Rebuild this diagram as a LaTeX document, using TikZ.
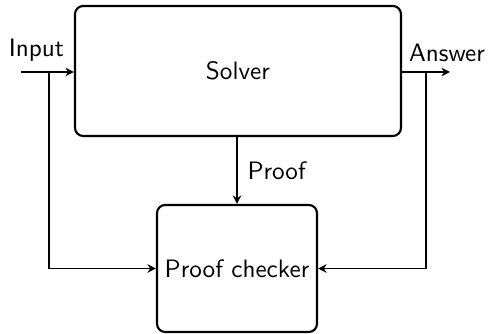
\documentclass[tikz,border=0pt]{standalone}
\usetikzlibrary{arrows.meta}
\begin{document}
\begin{tikzpicture}[x=0.397pt,y=-0.397pt,
  font=\sffamily,
  box/.style={draw,line width=0.85pt,rounded corners=3.2pt,inner sep=0pt},
  conn/.style={line width=0.7pt,-{Stealth[length=3.4pt,width=3.4pt]}},
  plain/.style={line width=0.7pt},
  lbl/.style={inner sep=0pt,anchor=base}]
\useasboundingbox (0,0) rectangle (489,334);
\node[box,minimum width=129.4pt,minimum height=51.6pt] (solver) at (238,71) {Solver};
\node[box,minimum width=63.5pt,minimum height=50.4pt] (checker) at (237,268.5) {Proof checker};
\node[lbl] (input) at (36.5,57) {Input};
\node[lbl] (answer) at (447,62) {Answer};
\node[lbl,anchor=base west] (prooflbl) at (247,180) {Proof};
\coordinate (inS) at (21,72);
\coordinate (jin) at (49,72);
\coordinate (outE) at (450,72);
\coordinate (jout) at (426,72);
\draw[conn] (inS) -- (solver.west |- inS);
\draw[conn] (jin) |- (checker.west);
\draw[conn] (solver.east |- outE) -- (outE);
\draw[conn] (jout) |- (checker.east);
\draw[conn] (checker.north |- solver.south) -- (checker.north);
\end{tikzpicture}
\end{document}
